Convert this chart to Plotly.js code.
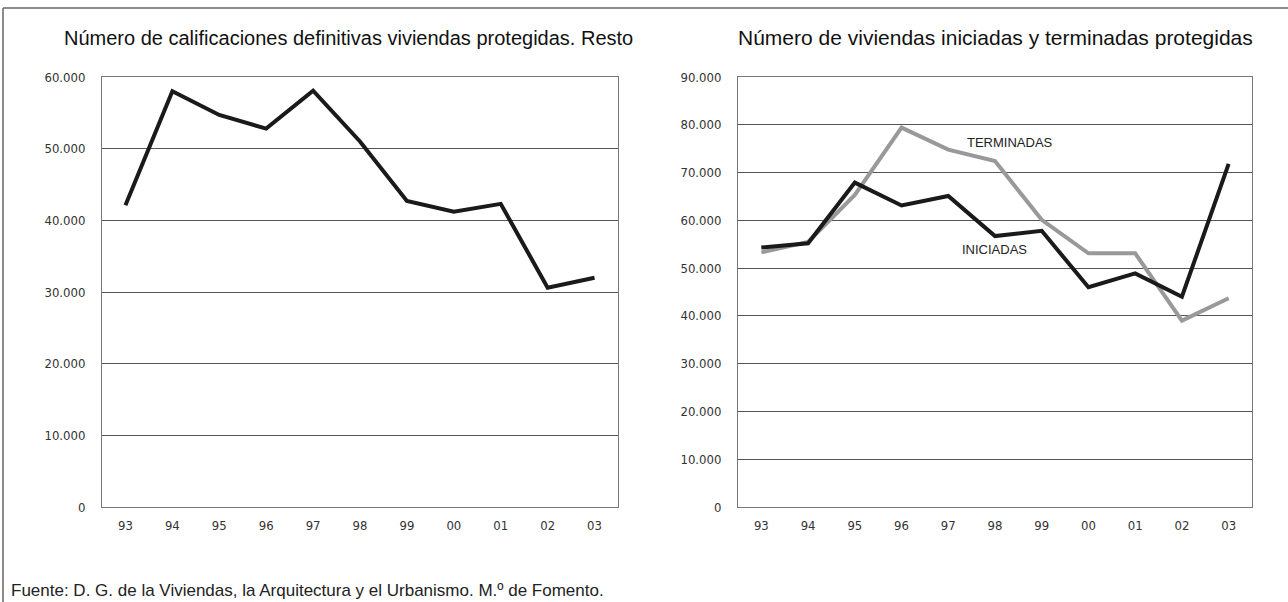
<!DOCTYPE html>
<html><head><meta charset="utf-8">
<script src="https://cdn.plot.ly/plotly-3.0.1.min.js"></script>
<style>html,body{margin:0;padding:0;background:#fff;}#chart{width:1288px;height:602px;}</style>
</head><body><div id="chart"></div>
<script>
const years = ["93","94","95","96","97","98","99","00","01","02","03"];
const calificaciones = [42100, 58000, 54700, 52800, 58100, 51000, 42700, 41200, 42300, 30600, 32000];
const iniciadas = [54300, 55200, 67900, 63100, 65100, 56700, 57800, 46000, 48900, 44000, 71800];
const terminadas = [53300, 55500, 65300, 79400, 74800, 72400, 60100, 53100, 53100, 39000, 43700];
const leftTickVals = [0, 10000, 20000, 30000, 40000, 50000, 60000];
const leftTickText = ["0", "10.000", "20.000", "30.000", "40.000", "50.000", "60.000"];
const rightTickVals = [0, 10000, 20000, 30000, 40000, 50000, 60000, 70000, 80000, 90000];
const rightTickText = ["0", "10.000", "20.000", "30.000", "40.000", "50.000", "60.000", "70.000", "80.000", "90.000"];
const titleLeft = "Número de calificaciones definitivas viviendas protegidas. Resto";
const titleRight = "Número de viviendas iniciadas y terminadas protegidas";
const source = "Fuente: D. G. de la Viviendas, la Arquitectura y el Urbanismo. M.º de Fomento.";

const W = 1288, H = 602;
const tickFont = {family: "'Liberation Sans Narrow', 'Arial Narrow', 'DejaVu Sans Condensed', sans-serif", size: 13, color: "#333"};
const textFamily = "'Liberation Sans', Arial, sans-serif";

const traces = [
  {x: years, y: calificaciones, xaxis: "x", yaxis: "y", type: "scatter", mode: "lines",
   line: {color: "#1a1a1a", width: 4}, hoverinfo: "skip"},
  {x: years, y: terminadas, xaxis: "x2", yaxis: "y2", type: "scatter", mode: "lines",
   line: {color: "#999999", width: 4}, hoverinfo: "skip"},
  {x: years, y: iniciadas, xaxis: "x2", yaxis: "y2", type: "scatter", mode: "lines",
   line: {color: "#1a1a1a", width: 4}, hoverinfo: "skip"}
];

const ydom = [1 - 507 / H, 1 - 77 / H];
const xaxisBase = {type: "category", range: [-0.5, 10.5], showgrid: false, zeroline: false, showline: true, mirror: true,
  linecolor: "#777", linewidth: 1, ticks: "", tickfont: tickFont, ticklabelstandoff: 6, fixedrange: true};
const yaxisBase = {showgrid: true, gridcolor: "#555", gridwidth: 1, zeroline: false, showline: true, mirror: true,
  linecolor: "#777", linewidth: 1, ticks: "", tickfont: tickFont, ticklabelstandoff: 13, fixedrange: true};

const layout = {
  width: W, height: H,
  margin: {l: 0, r: 0, t: 0, b: 0},
  paper_bgcolor: "#fff", plot_bgcolor: "#fff",
  showlegend: false,
  xaxis: Object.assign({}, xaxisBase, {domain: [102 / W, 618 / W], anchor: "y"}),
  yaxis: Object.assign({}, yaxisBase, {domain: ydom, anchor: "x", range: [0, 60000],
    tickvals: leftTickVals, ticktext: leftTickText}),
  xaxis2: Object.assign({}, xaxisBase, {domain: [738 / W, 1252 / W], anchor: "y2"}),
  yaxis2: Object.assign({}, yaxisBase, {domain: ydom, anchor: "x2", range: [0, 90000],
    tickvals: rightTickVals, ticktext: rightTickText}),
  annotations: [
    {text: titleLeft, xref: "paper", yref: "paper", x: 348 / W, y: 1 - 38 / H, xanchor: "center", yanchor: "middle",
     showarrow: false, font: {family: textFamily, size: 20, color: "#111"}},
    {text: titleRight, xref: "paper", yref: "paper", x: 995 / W, y: 1 - 38 / H, xanchor: "center", yanchor: "middle",
     showarrow: false, font: {family: textFamily, size: 21, color: "#111"}},
    {text: "TERMINADAS", xref: "x2", yref: "y2", x: 5.32, y: 76200, xanchor: "center", yanchor: "middle",
     showarrow: false, font: {family: textFamily, size: 13, color: "#222"}},
    {text: "INICIADAS", xref: "x2", yref: "y2", x: 4.98, y: 54000, xanchor: "center", yanchor: "middle",
     showarrow: false, font: {family: textFamily, size: 13, color: "#222"}},
    {text: source, xref: "paper", yref: "paper", x: 9 / W, y: 1 - 590 / H, xanchor: "left", yanchor: "middle",
     showarrow: false, font: {family: textFamily, size: 17, color: "#222"}}
  ],
  shapes: [
    {type: "line", xref: "paper", yref: "paper", x0: 3 / W, x1: 1, y0: 1 - 8 / H, y1: 1 - 8 / H,
     line: {color: "#666", width: 1.5}},
    {type: "line", xref: "paper", yref: "paper", x0: 3 / W, x1: 3 / W, y0: 0, y1: 1 - 8 / H,
     line: {color: "#666", width: 1.5}}
  ]
};

Plotly.newPlot("chart", traces, layout, {displayModeBar: false, staticPlot: true});
</script>
</body></html>
